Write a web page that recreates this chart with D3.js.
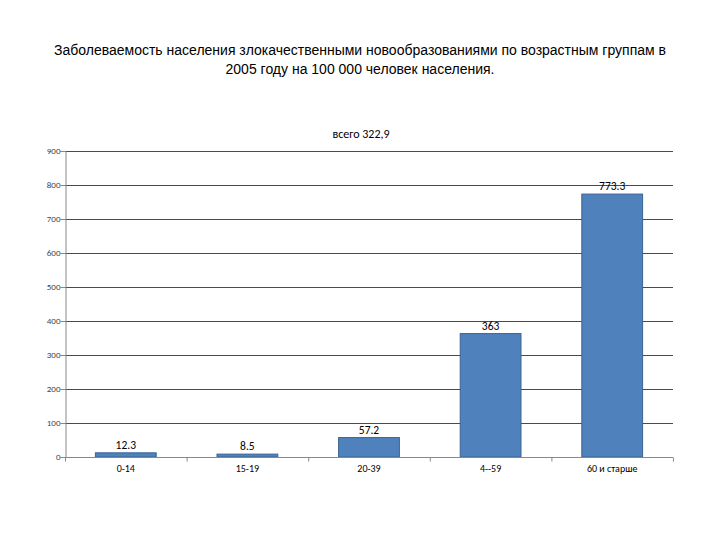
<!DOCTYPE html>
<html><head><meta charset="utf-8">
<script src="https://cdn.jsdelivr.net/npm/d3@7"></script>
<style>body{margin:0;background:#fff;}svg{display:block;}</style>
</head><body>
<svg id="c" width="720" height="540"></svg>
<script>
const categories = ["0-14", "15-19", "20-39", "4--59", "60 и старше"];
const values = [12.3, 8.5, 57.2, 363, 773.3];
const valueLabels = ["12.3", "8.5", "57.2", "363", "773.3"];
const yTicks = [0, 100, 200, 300, 400, 500, 600, 700, 800, 900];
const titleLines = ["Заболеваемость населения  злокачественными новообразованиями по возрастным группам в", "2005 году на 100 000 человек населения."];
const subTitle = "всего 322,9";

const svg = d3.select("#c");
const L = 65, R = 673, T = 151, B = 457;
const x = d3.scaleBand().domain(categories).range([L, R]).paddingInner(0.5).paddingOuter(0.25);
const y = d3.scaleLinear().domain([0, 900]).range([B, T]);
const cal = "Calibri,Carlito,'Liberation Sans',sans-serif";

svg.append("g").selectAll("text").data(titleLines).join("text")
  .attr("x", 360).attr("y", (d, i) => 55 + i * 18.5)
  .attr("text-anchor", "middle").attr("font-family", "'Liberation Sans Narrow','Liberation Sans',Arial,sans-serif")
  .attr("font-size", 14).attr("fill", "#000").text(d => d);

svg.append("text").attr("x", 361).attr("y", 138).attr("text-anchor", "middle")
  .attr("font-family", cal).attr("font-size", 12)
  .attr("fill", "#000").text(subTitle);

// gridlines
svg.append("g").selectAll("line").data(yTicks.filter(d => d > 0)).join("line")
  .attr("x1", L).attr("x2", R).attr("y1", d => y(d) + 0.5).attr("y2", d => y(d) + 0.5)
  .attr("stroke", "#4a4a4a").attr("stroke-width", 1);

// bars
svg.append("g").selectAll("rect").data(values).join("rect")
  .attr("x", (d, i) => x(categories[i])).attr("width", x.bandwidth())
  .attr("y", d => y(d)).attr("height", d => B - y(d))
  .attr("fill", "#4F81BD").attr("stroke", "#3a6493").attr("stroke-width", 1);

// value labels
svg.append("g").selectAll("text").data(values).join("text")
  .attr("x", (d, i) => x(categories[i]) + x.bandwidth() / 2).attr("y", d => y(d) - 4)
  .attr("text-anchor", "middle").attr("font-family", cal)
  .attr("font-size", 11.5).attr("fill", "#000").text((d, i) => valueLabels[i]);

// y axis
const yAxis = d3.axisLeft(y).tickValues(yTicks).tickSize(5).tickFormat(d3.format("d"));
const gy = svg.append("g").attr("transform", `translate(${L + 0.5},0)`).call(yAxis);
gy.select(".domain").attr("stroke", "#888");
gy.selectAll(".tick line").attr("stroke", "#888");
gy.selectAll(".tick text").attr("font-family", cal).attr("font-size", 9).attr("fill", "#444").attr("x", -5);

// x axis
const xs = d3.scaleLinear().domain([0, 5]).range([L, R]);
const gx = svg.append("g").attr("transform", `translate(0,${B + 0.5})`);
gx.append("line").attr("x1", L - 5).attr("x2", R).attr("stroke", "#888");
gx.selectAll("line.t").data(d3.range(0, 6)).join("line").attr("class", "t")
  .attr("x1", d => xs(d) + 0.5).attr("x2", d => xs(d) + 0.5).attr("y1", 0).attr("y2", 4).attr("stroke", "#888");
gx.selectAll("text").data(categories).join("text")
  .attr("x", d => x(d) + x.bandwidth() / 2).attr("y", 14)
  .attr("text-anchor", "middle").attr("font-family", cal)
  .attr("font-size", 10).attr("fill", "#000").text(d => d);
</script>
</body></html>
